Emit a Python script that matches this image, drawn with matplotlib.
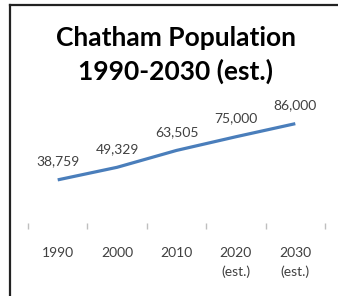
import matplotlib
matplotlib.use("Agg")
import matplotlib.pyplot as plt
from matplotlib.lines import Line2D
import numpy as np

years = ["1990", "2000", "2010", "2020\n(est.)", "2030\n(est.)"]
population = [38759, 49329, 63505, 75000, 86000]
labels = ["38,759", "49,329", "63,505", "75,000", "86,000"]

W, H = 338, 296
fig = plt.figure(figsize=(W/100, H/100), dpi=100)
fig.patch.set_facecolor("white")

ax = fig.add_axes([28/W, (H-226)/H, (325-28)/W, (226-107)/H])
x = np.arange(len(years))
ax.plot(x, population, color="#4A7EBB", lw=2.3, solid_capstyle="butt")
for xi, yi, lab in zip(x, population, labels):
    ax.annotate(lab, (xi, yi), xytext=(0, 10.5), textcoords="offset points",
                ha="center", va="baseline", fontsize=10, color="#404040",
                family="Lato")
ax.set_xlim(-0.5, len(years) - 0.5)
ax.set_ylim(0, 100000)
ax.set_yticks([])
ax.set_xticks(x)
ax.set_xticklabels(years, fontsize=10, color="#404040", family="Lato", linespacing=1.6)
ax.tick_params(axis="x", which="major", length=0, pad=15)
ax.set_xticks(np.arange(-0.5, len(years)), minor=True)
ax.tick_params(axis="x", which="minor", length=5, direction="inout", color="#BFBFBF", width=1)
for s in ax.spines.values():
    s.set_visible(False)
ax.patch.set_alpha(0)

fig.text(175.5/W, 1 - 46/H, "Chatham Population", ha="center", va="baseline",
         fontsize=19, fontweight="bold", family="Lato", color="black")
fig.text(176/W, 1 - 80/H, "1990-2030 (est.)", ha="center", va="baseline",
         fontsize=19, fontweight="bold", family="Lato", color="black")

fig.add_artist(Line2D([10/W, 10/W], [0, 1 - 5/H], transform=fig.transFigure, color="#222222", lw=1.6))
fig.add_artist(Line2D([10/W, 1], [1 - 5/H, 1 - 5/H], transform=fig.transFigure, color="#222222", lw=1.6))

fig.savefig("out.png", dpi=100)
